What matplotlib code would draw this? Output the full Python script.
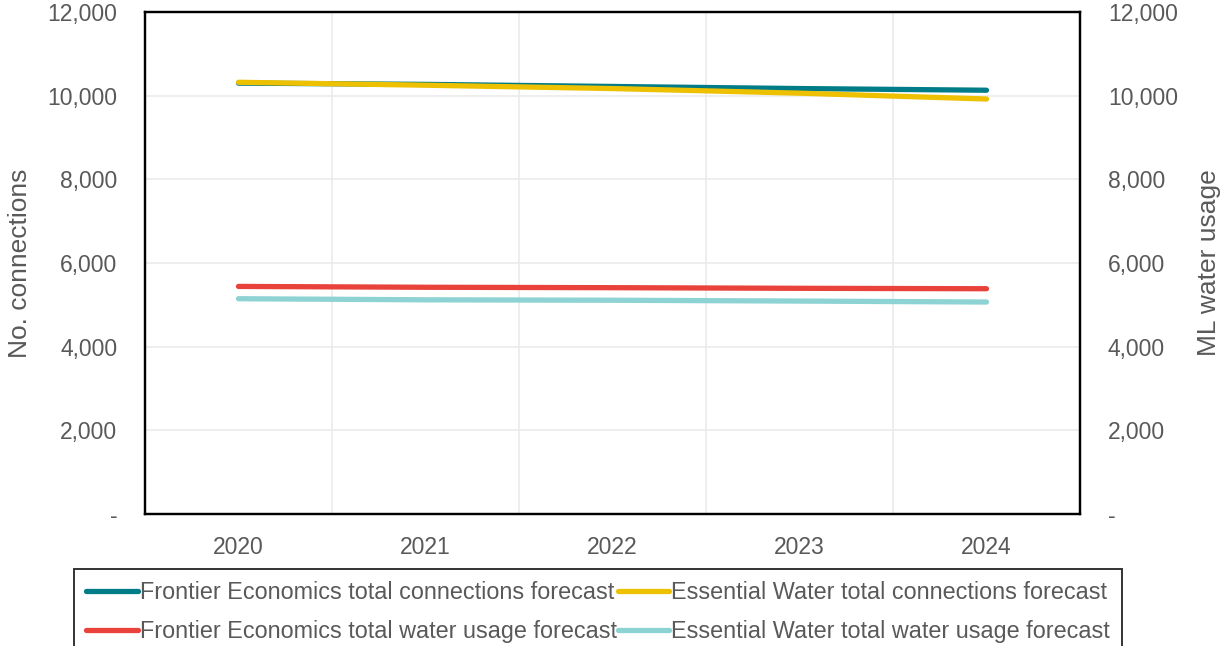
import matplotlib
matplotlib.use("Agg")
import matplotlib.pyplot as plt
from matplotlib.ticker import FuncFormatter, FixedLocator

plt.rcParams['font.family'] = ['Liberation Sans', 'DejaVu Sans']

years = ["2020", "2021", "2022", "2023", "2024"]
fe_connections = [10300, 10270, 10220, 10170, 10130]
ew_connections = [10320, 10250, 10170, 10060, 9920]
fe_usage = [5440, 5420, 5410, 5395, 5385]
ew_usage = [5146, 5120, 5110, 5090, 5067]

labels = [
    "Frontier Economics total connections forecast",
    "Essential Water total connections forecast",
    "Frontier Economics total water usage forecast",
    "Essential Water total water usage forecast",
]
colors = ["#007C89", "#EDC000", "#E8423A", "#8DD3D3"]

text_color = "#595959"
grid_color = "#EBEBEB"

fig = plt.figure(figsize=(12.24, 6.46), dpi=100)
ax = fig.add_axes([145 / 1224, 1 - 514 / 646, (1080 - 145) / 1224, (514 - 12) / 646])
ax2 = ax.twinx()

x = list(range(len(years)))
lw = 3.8
h1, = ax.plot(x, fe_connections, color=colors[0], lw=lw, solid_capstyle='round', zorder=3)
h2, = ax.plot(x, ew_connections, color=colors[1], lw=lw, solid_capstyle='round', zorder=4)
h3, = ax2.plot(x, fe_usage, color=colors[2], lw=lw, solid_capstyle='round', zorder=3)
h4, = ax2.plot(x, ew_usage, color=colors[3], lw=lw, solid_capstyle='round', zorder=3)

fmt = FuncFormatter(lambda v, p: "-" if v == 0 else f"{v:,.0f}")
yt = [0, 2000, 4000, 6000, 8000, 10000, 12000]
for a in (ax, ax2):
    a.set_ylim(0, 12000)
    a.set_yticks(yt)
    a.yaxis.set_major_formatter(fmt)
    a.set_xlim(-0.5, len(years) - 0.5)

ax.set_xticks(x)
ax.set_xticklabels(years)
ax.xaxis.set_minor_locator(FixedLocator([0.5, 1.5, 2.5, 3.5]))
ax.grid(axis='y', which='major', color=grid_color, lw=1.2, zorder=0)
ax.grid(axis='x', which='minor', color=grid_color, lw=1.2, zorder=0)
ax.set_axisbelow(True)

tick_fs = 16.5
ax.tick_params(axis='both', which='both', length=0, labelsize=tick_fs, labelcolor=text_color)
ax.tick_params(axis='y', pad=20)
ax.tick_params(axis='x', pad=16)
ax2.tick_params(axis='y', length=0, labelsize=tick_fs, labelcolor=text_color, pad=20)

ax.set_ylabel("No. connections", fontsize=19, color=text_color, labelpad=11)
ax2.set_ylabel("ML water usage", fontsize=19, color=text_color, labelpad=14)

for a in (ax, ax2):
    for s in a.spines.values():
        s.set_color("black")
        s.set_linewidth(1.6)

# legend fills column-first, so interleave to get row-wise order
leg = fig.legend([h1, h3, h2, h4], [labels[0], labels[2], labels[1], labels[3]],
                 ncol=2, loc='upper center',
                 bbox_to_anchor=(598 / 1224, 1 - 569 / 646),
                 fontsize=16.8, frameon=True, fancybox=False,
                 handlelength=2.2, handletextpad=0.08, columnspacing=0.05,
                 labelspacing=0.68, borderpad=0.52, borderaxespad=0,
                 labelcolor=text_color)
leg.get_frame().set_edgecolor("black")
leg.get_frame().set_linewidth(1.4)
for line in leg.get_lines():
    line.set_linewidth(3.8)

fig.savefig("out.png", dpi=100)
